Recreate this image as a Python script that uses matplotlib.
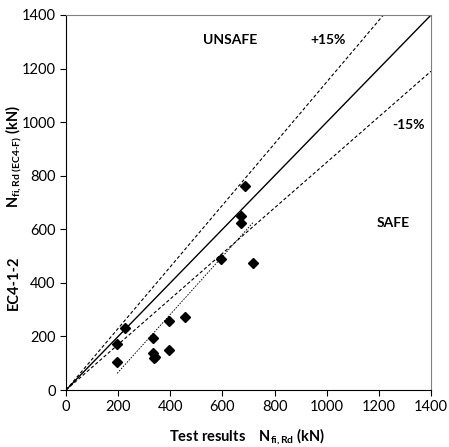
import numpy as np
import matplotlib
matplotlib.use('Agg')
import matplotlib.pyplot as plt

# ── Style ────────────────────────────────────────────────────────────────────
plt.rcParams.update({
    'font.family': ['Lato', 'DejaVu Sans'],
    'font.size': 10,
    'mathtext.fontset': 'custom',
    'mathtext.rm': 'Lato',
    'mathtext.bf': 'Lato:bold',
    'mathtext.it': 'Lato:italic',
})

# ── Data ─────────────────────────────────────────────────────────────────────
test_kn = [687, 670, 670, 594, 718, 228, 197, 197, 335, 394, 458, 394, 335, 343, 338]
ec4_kn  = [762, 650, 625, 490, 473, 233, 172, 105, 195, 256, 271, 148, 140, 125, 119]

ref_x = [0, 1400]
band_hi = 1.15
band_lo = 0.85
trend_x = [196, 720]
trend_y = [62, 628]

ticks = [0, 200, 400, 600, 800, 1000, 1200, 1400]

# ── Plot ─────────────────────────────────────────────────────────────────────
fig = plt.figure(figsize=(4.49, 4.47), dpi=100)
ax = fig.add_axes([0.147, 0.1275, 0.813, 0.839])

xr = np.array(ref_x, dtype=float)
ax.plot(xr, xr, color='black', lw=1.0)
ax.plot(xr, band_hi * xr, color='black', lw=0.8, ls=(0, (3, 2)))
ax.plot(xr, band_lo * xr, color='black', lw=0.8, ls=(0, (3, 2)))
ax.plot(trend_x, trend_y, color='black', lw=0.6, ls=(0, (2, 1.5)))
ax.plot(test_kn, ec4_kn, ls='none', marker='D', color='black', markersize=5.5)

ax.set_xlim(0, 1400)
ax.set_ylim(0, 1400)
ax.set_xticks(ticks)
ax.set_yticks(ticks)
ax.tick_params(direction='out', length=4, labelsize=10.5)
for s in ['top', 'right']:
    ax.spines[s].set_color('#808080')
    ax.spines[s].set_linewidth(0.8)

ax.text(629, 1307, 'UNSAFE', fontweight='bold', ha='center', va='center', fontsize=10)
ax.text(1004, 1307, '+15%', fontweight='bold', ha='center', va='center', fontsize=10)
ax.text(1312, 989, '-15%', fontweight='bold', ha='center', va='center', fontsize=10)
ax.text(1254, 623, 'SAFE', fontweight='bold', ha='center', va='center', fontsize=10)

fig.text(0.03, 0.367, 'EC4-1-2', rotation=90, fontweight='bold',
         ha='center', va='center', fontsize=10.5)
fig.text(0.03, 0.65, r'$\mathbf{N_{fi,Rd\ (EC4\text{-}F)}}$ (kN)', rotation=90,
         fontweight='bold', ha='center', va='center', fontsize=10.5)
fig.text(0.55, 0.022, r'Test results    $\mathbf{N_{fi,Rd}}$ (kN)', fontweight='bold',
         ha='center', va='center', fontsize=10.5)

fig.savefig('out.png', dpi=100)
